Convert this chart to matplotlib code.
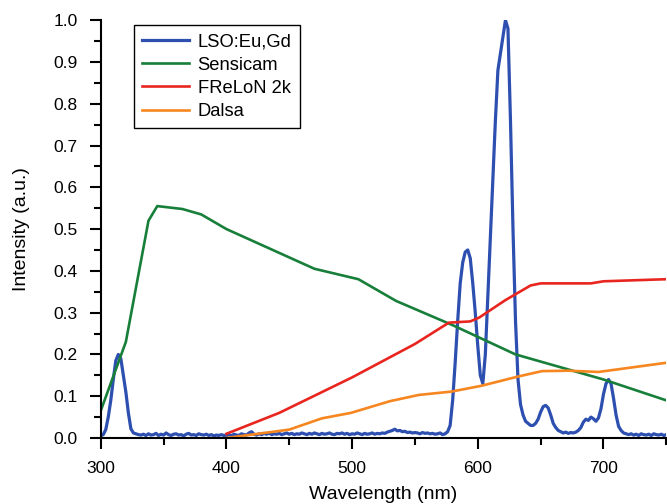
import numpy as np
import matplotlib
matplotlib.use("Agg")
import matplotlib.pyplot as plt
from matplotlib.ticker import MultipleLocator

plt.rcParams['font.family'] = ['Liberation Sans', 'DejaVu Sans']

# --- LSO:Eu,Gd emission, sampled every 2 nm from 300 to 750 nm ---
lso_start, lso_step = 300, 2
lso = [
    0.005, 0.008, 0.020, 0.050, 0.090, 0.140, 0.185, 0.200, 0.190, 0.150,  # 300
    0.110, 0.060, 0.022, 0.012, 0.010, 0.008, 0.007, 0.009, 0.006, 0.010,  # 320
    0.007, 0.008, 0.011, 0.006, 0.009, 0.007, 0.012, 0.008, 0.006, 0.009,  # 340
    0.010, 0.007, 0.008, 0.005, 0.009, 0.011, 0.007, 0.008, 0.006, 0.010,  # 360
    0.008, 0.007, 0.009, 0.006, 0.008, 0.005, 0.007, 0.006, 0.008, 0.006,  # 380
    0.006, 0.008, 0.005, 0.009, 0.007, 0.006, 0.010, 0.008, 0.007, 0.012,  # 400
    0.015, 0.009, 0.007, 0.010, 0.008, 0.011, 0.009, 0.012, 0.008, 0.010,  # 420
    0.009, 0.011, 0.008, 0.010, 0.012, 0.009, 0.011, 0.008, 0.010, 0.009,  # 440
    0.012, 0.010, 0.008, 0.011, 0.009, 0.012, 0.010, 0.008, 0.011, 0.009,  # 460
    0.010, 0.012, 0.009, 0.008, 0.011, 0.010, 0.012, 0.009, 0.011, 0.008,  # 480
    0.010, 0.009, 0.012, 0.010, 0.008, 0.011, 0.009, 0.010, 0.012, 0.009,  # 500
    0.011, 0.010, 0.012, 0.011, 0.014, 0.016, 0.018, 0.021, 0.017, 0.018,  # 520
    0.015, 0.016, 0.013, 0.014, 0.012, 0.013, 0.012, 0.010, 0.013, 0.011,  # 540
    0.012, 0.010, 0.011, 0.009, 0.010, 0.012, 0.008, 0.010, 0.015, 0.030,  # 560
    0.090, 0.180, 0.280, 0.370, 0.420, 0.445, 0.450, 0.430, 0.370, 0.300,  # 580
    0.220, 0.150, 0.130, 0.200, 0.340, 0.480, 0.620, 0.760, 0.880, 0.920,  # 600
    0.960, 1.000, 0.980, 0.760, 0.500, 0.280, 0.140, 0.080, 0.055, 0.040,  # 620
    0.035, 0.030, 0.030, 0.035, 0.045, 0.062, 0.075, 0.078, 0.072, 0.055,  # 640
    0.035, 0.025, 0.018, 0.015, 0.012, 0.014, 0.011, 0.013, 0.012, 0.014,  # 660
    0.018, 0.025, 0.038, 0.045, 0.042, 0.050, 0.046, 0.040, 0.048, 0.070,  # 680
    0.105, 0.130, 0.140, 0.130, 0.095, 0.055, 0.028, 0.018, 0.012, 0.010,  # 700
    0.008, 0.010, 0.007, 0.009, 0.006, 0.010, 0.008, 0.007, 0.009, 0.006,  # 720
    0.010, 0.008, 0.007, 0.009, 0.006, 0.008,                              # 740
]
lso_wl = lso_start + lso_step * np.arange(len(lso))

# --- camera quantum efficiency curves ---
sensicam_wl = [300, 320, 338, 345, 365, 380, 400, 470, 505, 535, 580, 630, 700, 750]
sensicam = [0.065, 0.23, 0.52, 0.555, 0.548, 0.535, 0.50, 0.405, 0.38, 0.328, 0.27, 0.20, 0.14, 0.09]

frelon_wl = [400, 442, 500, 550, 577, 594, 601, 622, 642, 650, 690, 700, 750]
frelon = [0.01, 0.06, 0.145, 0.225, 0.276, 0.279, 0.288, 0.33, 0.365, 0.37, 0.37, 0.375, 0.38]

dalsa_wl = [400, 420, 450, 476, 499, 530, 553, 579, 603, 632, 651, 672, 696, 750]
dalsa = [0.0, 0.008, 0.02, 0.047, 0.06, 0.088, 0.103, 0.111, 0.125, 0.147, 0.16, 0.161, 0.158, 0.18]

fig = plt.figure(figsize=(6.67, 5.04), dpi=100)
ax = fig.add_axes([0.151, 0.131, 0.848, 0.829])

ax.plot(lso_wl, lso, color='#2c4fb0', lw=2.3, label='LSO:Eu,Gd')
ax.plot(sensicam_wl, sensicam, color='#177f3a', lw=1.9, label='Sensicam')
ax.plot(frelon_wl, frelon, color='#e8261f', lw=1.9, label='FReLoN 2k')
ax.plot(dalsa_wl, dalsa, color='#f6861f', lw=1.9, label='Dalsa')

ax.set_xlim(300, 750)
ax.set_ylim(0, 1.0)
ax.xaxis.set_major_locator(MultipleLocator(100))
ax.xaxis.set_minor_locator(MultipleLocator(50))
ax.yaxis.set_major_locator(MultipleLocator(0.1))
ax.yaxis.set_minor_locator(MultipleLocator(0.05))
ax.yaxis.set_major_formatter(plt.FormatStrFormatter('%.1f'))

for side in ['top', 'right']:
    ax.spines[side].set_visible(False)
for side in ['left', 'bottom']:
    ax.spines[side].set_linewidth(1.5)

ax.tick_params(which='major', direction='out', length=8, width=1.5, labelsize=12.5, pad=8.5)
ax.tick_params(which='minor', direction='out', length=5, width=1.5)

ax.set_xlabel('Wavelength (nm)', fontsize=14, labelpad=7)
ax.set_ylabel('Intensity (a.u.)', fontsize=14, labelpad=17)

leg = ax.legend(loc='upper left', bbox_to_anchor=(0.058, 0.988), borderaxespad=0,
                fontsize=13.2, frameon=True, fancybox=False, edgecolor='black',
                framealpha=1, handlelength=2.6, handletextpad=0.45,
                borderpad=0.45, labelspacing=0.34)
leg.get_frame().set_linewidth(1.0)

fig.savefig('out.png', dpi=100)
